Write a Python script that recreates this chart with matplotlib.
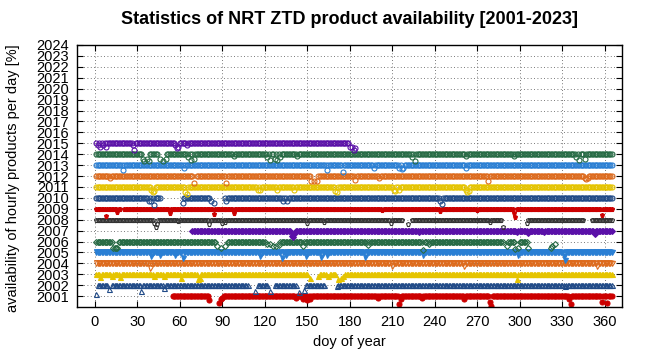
import numpy as np
import matplotlib.pyplot as plt

plt.rcParams['font.family'] = ['Liberation Sans', 'DejaVu Sans']

# one row per year: days covered (inclusive ranges) and days below 100 % (day, availability %)
years = list(range(2001, 2016))

cov2001 = [(55, 80), (91, 365)]
dip2001 = [(81, 60), (88, 40), (89, 70), (90, 85), (142, 80), (147, 70), (150, 60), (152, 75),
           (200, 80), (215, 25), (216, 70), (231, 85), (261, 70), (279, 45), (280, 10),
           (335, 70), (336, 25), (358, 45), (362, 40)]
cov2002 = [(2, 9), (12, 108), (115, 122), (127, 142), (149, 162), (171, 365)]
dip2002 = [(1, 15), (10, 65), (33, 45), (49, 77), (113, 45), (124, 45), (144, 37), (148, 60),
           (171, 90), (332, 90)]
cov2003 = [(1, 150), (158, 163), (165, 170), (177, 365)]
dip2003 = [(4, 73), (12, 80), (18, 73), (42, 80), (49, 80), (61, 68), (73, 52), (74, 70),
           (152, 70), (158, 82), (165, 82), (172, 52), (174, 70), (175, 85), (298, 52)]
cov2004 = [(1, 365)]
dip2004 = [(39, 60), (210, 75), (261, 75), (355, 75)]
cov2005 = [(1, 365)]
dip2005 = [(40, 63), (46, 78), (57, 75), (62, 50), (117, 70), (132, 50), (135, 78), (149, 70),
           (160, 60), (164, 75), (191, 55), (232, 75), (299, 75), (331, 63), (332, 33)]
cov2006 = [(1, 12), (17, 86), (94, 120), (131, 288), (292, 296), (300, 305)]
dip2006 = [(13, 40), (14, 36), (15, 36), (16, 45), (86, 55), (89, 45), (92, 60), (122, 75),
           (124, 80), (126, 60), (128, 55), (130, 70), (147, 55), (193, 65), (232, 25),
           (236, 80), (291, 55), (297, 35), (299, 40), (306, 40), (322, 40), (323, 60), (325, 75)]
cov2007 = [(69, 365)]
dip2007 = [(139, 48), (140, 40), (141, 70), (229, 85), (298, 85), (306, 80), (317, 85), (353, 70)]
cov2008 = [(1, 217), (224, 287), (305, 345), (351, 365)]
dip2008 = [(42, 70), (43, 30), (44, 60), (59, 85), (81, 62), (90, 70), (92, 80), (150, 70),
           (162, 75), (209, 70), (221, 60), (279, 80), (288, 35), (305, 70)]
cov2009 = [(1, 18), (21, 365)]
dip2009 = [(8, 30), (16, 70), (53, 60), (84, 48), (98, 60), (203, 85), (244, 76), (270, 85),
           (296, 63), (297, 21), (358, 45)]
cov2010 = [(1, 46), (62, 81), (92, 365)]
dip2010 = [(38, 70), (40, 70), (42, 30), (62, 50), (82, 70), (84, 50), (93, 70), (133, 70),
           (136, 70), (244, 70), (245, 40)]
cov2011 = [(1, 365)]
dip2011 = [(40, 75), (41, 50), (42, 60), (64, 50), (65, 38), (115, 75), (117, 75), (129, 70),
           (141, 75), (170, 60), (171, 50), (211, 75), (212, 60), (215, 70), (262, 75),
           (263, 50), (264, 60)]
cov2012 = [(1, 69), (72, 152), (158, 365)]
dip2012 = [(11, 80), (70, 36), (93, 40), (153, 50), (155, 50), (157, 50), (184, 65), (201, 85),
           (278, 50), (346, 80), (347, 75), (348, 80)]
cov2013 = [(1, 365)]
dip2013 = [(20, 58), (63, 73), (164, 58), (175, 33), (197, 73), (215, 70), (217, 60),
           (218, 70), (262, 73)]
cov2014 = [(1, 33), (39, 44), (51, 365)]
dip2014 = [(34, 55), (35, 35), (37, 55), (38, 35), (46, 55), (48, 35), (50, 55), (66, 70),
           (68, 45), (70, 60), (98, 80), (122, 70), (124, 45), (127, 60), (129, 45), (131, 70),
           (143, 80), (224, 70), (226, 40), (262, 80), (296, 80), (340, 70), (342, 45), (346, 60)]
cov2015 = [(1, 179)]
dip2015 = [(2, 80), (4, 70), (6, 80), (8, 70), (27, 80), (28, 40), (57, 80), (58, 60), (59, 70),
           (65, 85), (180, 70), (182, 70), (183, 40), (184, 60)]

coverage = [cov2001, cov2002, cov2003, cov2004, cov2005, cov2006, cov2007, cov2008,
            cov2009, cov2010, cov2011, cov2012, cov2013, cov2014, cov2015]
dips = [dip2001, dip2002, dip2003, dip2004, dip2005, dip2006, dip2007, dip2008,
        dip2009, dip2010, dip2011, dip2012, dip2013, dip2014, dip2015]

palette = ['#cc0000', '#204a87', '#e5c400', '#dd6a1c', '#2a7fd4', '#276b45', '#5a10a8', '#333333']
markers = ['o', '^', '^', 'v', 'v', 'D', 'D', 'p', 'p', 'o', 'o', 'o', 'o', 'o', 'o']
filled = [True, False, True, False, True, False, True, False, True,
          False, False, False, False, False, False]

fig = plt.figure(figsize=(6.47, 3.52), dpi=100)
ax = fig.add_axes([77 / 647, 45 / 352, 545 / 647, 262 / 352])

for i, year in enumerate(years):
    avail = {}
    for d0, d1 in coverage[i]:
        for d in range(d0, d1 + 1):
            avail[d] = 100.0
    for d, v in dips[i]:
        avail[d] = v
    days = np.array(sorted(avail))
    vals = np.array([avail[d] for d in days])
    col = palette[i % 8]
    ms = 3.6 if markers[i] != 'D' else 3.0
    ax.plot(days, year + (vals - 100) / 100, ls='none', marker=markers[i], ms=ms,
            mec=col, mfc=col if filled[i] else 'none', mew=0.8)

ax.set_xlim(-12.5, 372.3)
ax.set_ylim(2000, 2024)
ax.set_xticks(np.arange(0, 361, 30))
ax.set_yticks(np.arange(2001, 2025))
ax.tick_params(direction='in', top=True, right=True, length=4, width=0.8,
               labelsize=10.5, colors='black')
ax.tick_params(axis='y', pad=6)
ax.tick_params(axis='x', pad=6)
ax.grid(True, color='0.3', lw=0.6, ls=(0, (1, 3)))
ax.set_axisbelow(True)
for s in ax.spines.values():
    s.set_linewidth(1.0)

fig.text(349.5 / 647, 1 - 20 / 352, 'Statistics of NRT ZTD product availability [2001-2023]',
         ha='center', va='center', fontsize=13, fontweight='bold')
fig.text(349.5 / 647, 1 - 342 / 352, 'doy of year', ha='center', va='center', fontsize=10.5)
fig.text(13 / 647, 1 - 178 / 352, 'availability of hourly products per day [%]',
         ha='center', va='center', rotation=90, fontsize=10.5)

fig.savefig('out.png', dpi=100)
